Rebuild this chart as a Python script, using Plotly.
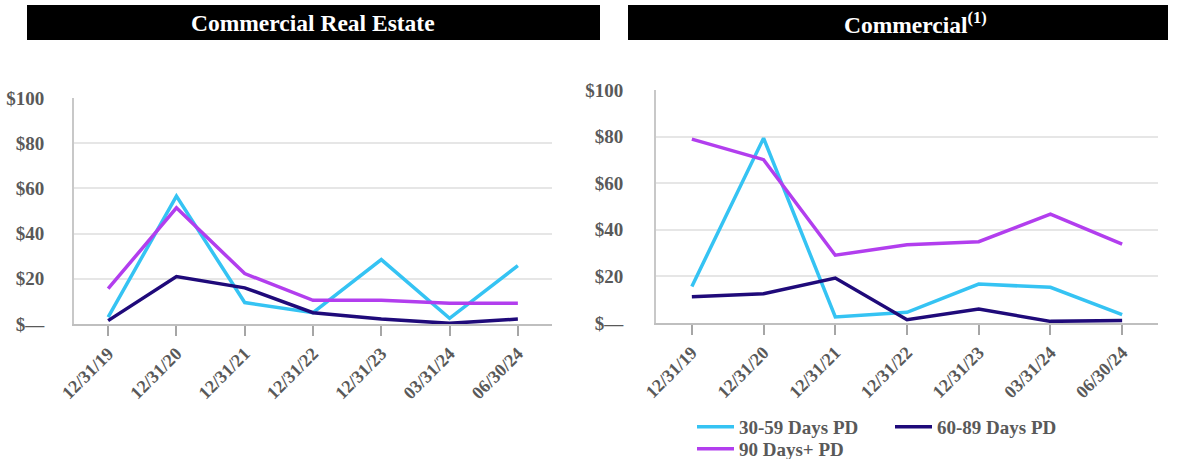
import plotly.graph_objects as go

categories = ["12/31/19", "12/31/20", "12/31/21", "12/31/22", "12/31/23", "03/31/24", "06/30/24"]

# Commercial Real Estate ($ millions)
cre_30_59 = [3.0, 56.6, 9.5, 5.0, 28.5, 2.5, 25.8]
cre_60_89 = [1.5, 21.0, 16.0, 5.0, 2.2, 0.3, 2.2]
cre_90_plus = [15.6, 51.4, 22.3, 10.5, 10.5, 9.2, 9.2]

# Commercial ($ millions)
com_30_59 = [15.7, 79.3, 2.6, 4.6, 16.7, 15.3, 3.6]
com_60_89 = [11.3, 12.6, 19.3, 1.4, 6.0, 0.7, 1.1]
com_90_plus = [78.9, 70.1, 29.1, 33.6, 34.9, 46.7, 33.9]

series_names = ["30-59 Days PD", "60-89 Days PD", "90 Days+ PD"]
colors = ["#35C3F3", "#1F0A7A", "#B23EEE"]

ytick_vals = [0, 20, 40, 60, 80, 100]
ytick_text = ["$\u2014", "$20", "$40", "$60", "$80", "$100"]

W, H = 1194, 459
MB = 45          # bottom margin reserved for the legend
PH = H - MB      # plot-area height
FONT = "Liberation Serif"
GREY = "#595959"

def px_x(p):
    return p / W

def px_y(p):
    return (PH - p) / PH

fig = go.Figure()

left_data = [cre_30_59, cre_60_89, cre_90_plus]
right_data = [com_30_59, com_60_89, com_90_plus]
legend_ids = ["legend", "legend", "legend2"]

for i, (name, vals) in enumerate(zip(series_names, left_data)):
    fig.add_trace(go.Scatter(x=categories, y=vals, mode="lines", name=name,
                             line=dict(color=colors[i], width=3.5),
                             xaxis="x", yaxis="y", showlegend=False))
for i, (name, vals) in enumerate(zip(series_names, right_data)):
    fig.add_trace(go.Scatter(x=categories, y=vals, mode="lines", name=name,
                             line=dict(color=colors[i], width=3.5),
                             xaxis="x2", yaxis="y2", showlegend=True,
                             legend=legend_ids[i]))

tickfont = dict(family=FONT, size=19, color=GREY, weight="bold")
xtickfont = dict(family=FONT, size=18, color=GREY, weight="bold")
legfont = dict(family=FONT, size=19, color=GREY, weight="bold")

def xaxis_cfg(domain, anchor):
    return dict(domain=domain, anchor=anchor, type="category",
                range=[-0.5, 6.5], showgrid=False, showline=True,
                linecolor="#bfbfbf", linewidth=2, ticks="outside",
                ticklen=10, tickwidth=1.5, tickcolor="#a6a6a6",
                tickangle=-45, tickfont=xtickfont, automargin=False,
                zeroline=False)

def yaxis_cfg(domain, anchor, standoff):
    return dict(domain=domain, anchor=anchor, range=[0, 100],
                tickvals=ytick_vals, ticktext=ytick_text,
                showgrid=True, gridcolor="#e6e6e6", gridwidth=2,
                showline=True, linecolor="#c8c8c8", linewidth=2,
                ticks="outside", ticklen=standoff, tickcolor="rgba(0,0,0,0)",
                tickfont=tickfont, zeroline=False, automargin=False)

fig.update_layout(
    width=W, height=H,
    margin=dict(l=0, r=0, t=0, b=MB, autoexpand=False),
    paper_bgcolor="white", plot_bgcolor="white",
    xaxis=xaxis_cfg([px_x(74), px_x(552)], "y"),
    yaxis=yaxis_cfg([px_y(324), px_y(98)], "x", 24),
    xaxis2=xaxis_cfg([px_x(656), px_x(1158)], "y2"),
    yaxis2=yaxis_cfg([px_y(323), px_y(90)], "x2", 27),
    legend=dict(orientation="h", x=px_x(692), y=px_y(427), xanchor="left",
                yanchor="middle", font=legfont, entrywidth=146,
                bgcolor="rgba(0,0,0,0)", itemwidth=37),
    legend2=dict(orientation="h", x=px_x(692), y=px_y(449), xanchor="left",
                 yanchor="middle", font=legfont, bgcolor="rgba(0,0,0,0)",
                 itemwidth=37),
    showlegend=True,
)

# Title bars
fig.add_shape(type="rect", xref="paper", yref="paper",
              x0=px_x(27), x1=px_x(600), y0=px_y(40), y1=px_y(5),
              fillcolor="black", line=dict(width=0), layer="below")
fig.add_shape(type="rect", xref="paper", yref="paper",
              x0=px_x(628), x1=px_x(1168), y0=px_y(40), y1=px_y(5),
              fillcolor="black", line=dict(width=0), layer="below")

titlefont = dict(family=FONT, size=23.5, color="white", weight="bold")
fig.add_annotation(text="Commercial Real Estate", xref="paper", yref="paper",
                   x=px_x(313), y=px_y(23), showarrow=False, font=titlefont,
                   xanchor="center", yanchor="middle")
fig.add_annotation(text="Commercial<sup>(1)</sup>", xref="paper", yref="paper",
                   x=px_x(915), y=px_y(23), showarrow=False, font=titlefont,
                   xanchor="center", yanchor="middle")

fig.write_html("out.html")
